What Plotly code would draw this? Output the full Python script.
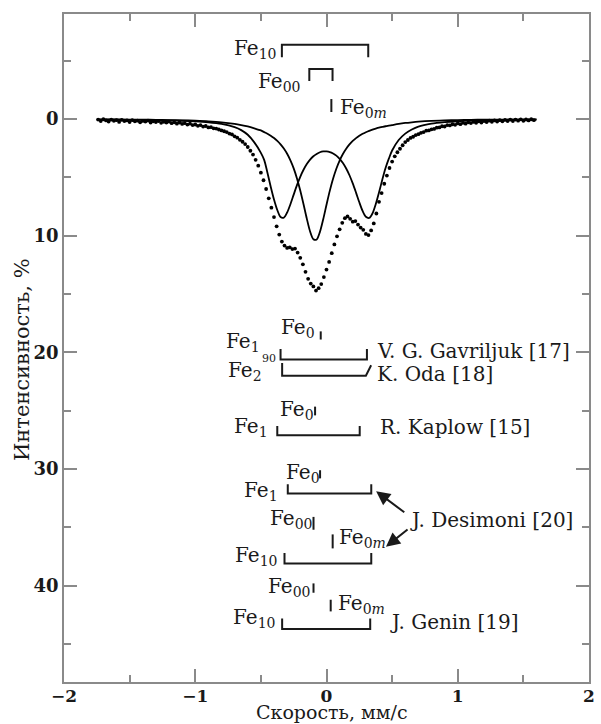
import plotly.graph_objects as go

# ---------------- data ----------------
velocity = [
    -1.74, -1.72, -1.70, -1.68, -1.66, -1.64, -1.62, -1.60, -1.58, -1.56,
    -1.54, -1.52, -1.50, -1.48, -1.46, -1.44, -1.42, -1.40, -1.38, -1.36,
    -1.34, -1.32, -1.30, -1.28, -1.26, -1.24, -1.22, -1.20, -1.18, -1.16,
    -1.14, -1.12, -1.10, -1.08, -1.06, -1.04, -1.02, -1.00, -0.98, -0.96,
    -0.94, -0.92, -0.90, -0.88, -0.86, -0.84, -0.82, -0.80, -0.78, -0.76,
    -0.74, -0.72, -0.70, -0.68, -0.66, -0.64, -0.62, -0.60, -0.58, -0.56,
    -0.54, -0.52, -0.50, -0.48, -0.46, -0.44, -0.42, -0.40, -0.38, -0.36,
    -0.34, -0.32, -0.30, -0.28, -0.26, -0.24, -0.22, -0.20, -0.18, -0.16,
    -0.14, -0.12, -0.10, -0.08, -0.06, -0.04, -0.02, 0.00, 0.02, 0.04,
    0.06, 0.08, 0.10, 0.12, 0.14, 0.16, 0.18, 0.20, 0.22, 0.24,
    0.26, 0.28, 0.30, 0.32, 0.34, 0.36, 0.38, 0.40, 0.42, 0.44,
    0.46, 0.48, 0.50, 0.52, 0.54, 0.56, 0.58, 0.60, 0.62, 0.64,
    0.66, 0.68, 0.70, 0.72, 0.74, 0.76, 0.78, 0.80, 0.82, 0.84,
    0.86, 0.88, 0.90, 0.92, 0.94, 0.96, 0.98, 1.00, 1.02, 1.04,
    1.06, 1.08, 1.10, 1.12, 1.14, 1.16, 1.18, 1.20, 1.22, 1.24,
    1.26, 1.28, 1.30, 1.32, 1.34, 1.36, 1.38, 1.40, 1.42, 1.44,
    1.46, 1.48, 1.50, 1.52, 1.54, 1.56, 1.58,
]
absorption = [
    0.05, 0.18, 0.02, 0.12, 0.22, 0.06, 0.15, 0.10, 0.25, 0.08,
    0.17, 0.12, 0.26, 0.10, 0.20, 0.14, 0.28, 0.16, 0.22, 0.13,
    0.30, 0.20, 0.26, 0.18, 0.33, 0.24, 0.30, 0.22, 0.36, 0.28,
    0.40, 0.30, 0.42, 0.36, 0.48, 0.40, 0.52, 0.47, 0.58, 0.52,
    0.65, 0.60, 0.72, 0.70, 0.80, 0.82, 0.90, 0.98, 1.05, 1.12,
    1.25, 1.32, 1.48, 1.60, 1.78, 1.95, 2.15, 2.40, 2.72, 3.05,
    3.50, 4.00, 4.60, 5.25, 6.00, 6.80, 7.60, 8.40, 9.20, 9.90,
    10.50, 10.85, 11.05, 11.00, 11.15, 11.10, 11.45, 11.90, 12.45, 13.10,
    13.70, 14.10, 14.35, 14.70, 14.50, 14.15, 13.55, 12.90, 12.25, 11.50,
    10.75, 10.05, 9.45, 8.90, 8.50, 8.35, 8.55, 8.80, 8.75, 9.05,
    9.30, 9.50, 9.85, 9.95, 9.55, 8.95, 8.10, 7.10, 6.35, 5.55,
    4.85, 4.20, 3.65, 3.20, 2.85, 2.55, 2.25, 1.98, 1.80, 1.62,
    1.52, 1.38, 1.30, 1.18, 1.12, 1.00, 0.98, 0.88, 0.85, 0.74,
    0.72, 0.62, 0.64, 0.52, 0.55, 0.45, 0.50, 0.38, 0.44, 0.33,
    0.40, 0.28, 0.35, 0.25, 0.32, 0.20, 0.30, 0.18, 0.26, 0.14,
    0.24, 0.12, 0.22, 0.10, 0.20, 0.08, 0.17, 0.06, 0.18, 0.05,
    0.14, 0.03, 0.15, 0.04, 0.12, 0.02, 0.10,
]

fit_velocity = [
    -1.75, -1.6, -1.5, -1.4, -1.3, -1.2, -1.1, -1.0, -0.9, -0.8,
    -0.7, -0.65, -0.6, -0.55, -0.5, -0.475, -0.45, -0.425, -0.4, -0.375,
    -0.35, -0.325, -0.3, -0.275, -0.25, -0.225, -0.2, -0.175, -0.15, -0.125,
    -0.1, -0.075, -0.05, -0.025, 0.0, 0.025, 0.05, 0.075, 0.1, 0.125,
    0.15, 0.175, 0.2, 0.225, 0.25, 0.275, 0.3, 0.325, 0.35, 0.375,
    0.4, 0.425, 0.45, 0.475, 0.5, 0.55, 0.6, 0.65, 0.7, 0.8,
    0.9, 1.0, 1.1, 1.2, 1.3, 1.4, 1.5, 1.6,
]
fit_doublet = [
    0.05, 0.06, 0.07, 0.08, 0.10, 0.12, 0.15, 0.20, 0.28, 0.42,
    0.70, 0.95, 1.35, 2.00, 2.90, 3.50, 4.60, 5.80, 6.90, 7.80,
    8.40, 8.45, 8.01, 7.30, 6.48, 5.67, 4.95, 4.35, 3.86, 3.48,
    3.19, 2.99, 2.85, 2.78, 2.78, 2.83, 2.95, 3.14, 3.41, 3.77,
    4.24, 4.82, 5.52, 6.31, 7.14, 7.88, 8.38, 8.48, 8.10, 7.30,
    6.30, 5.20, 4.20, 3.40, 2.70, 1.80, 1.25, 0.90, 0.65, 0.40,
    0.27, 0.19, 0.14, 0.11, 0.09, 0.08, 0.07, 0.06,
]
fit_singlet = [
    0.03, 0.04, 0.05, 0.06, 0.07, 0.09, 0.11, 0.15, 0.20, 0.28,
    0.42, 0.52, 0.64, 0.80, 0.98, 1.12, 1.26, 1.43, 1.63, 1.87,
    2.17, 2.53, 2.98, 3.54, 4.23, 5.09, 6.12, 7.30, 8.54, 9.64,
    10.30, 10.32, 9.67, 8.59, 7.35, 6.16, 5.12, 4.26, 3.56, 3.00,
    2.55, 2.18, 1.88, 1.64, 1.44, 1.27, 1.13, 1.01, 0.91, 0.82,
    0.74, 0.68, 0.62, 0.57, 0.52, 0.42, 0.34, 0.28, 0.23, 0.16,
    0.12, 0.09, 0.07, 0.06, 0.05, 0.04, 0.04, 0.03,
]

# brackets: left/right line positions (mm/s), base level and tick ends (%)
bracket_left = [-0.34, -0.131, -0.35, -0.338, -0.375, -0.295, -0.32, -0.338]
bracket_right = [0.318, 0.046, 0.308, 0.30, 0.253, 0.341, 0.341, 0.333]
bracket_right_end = [0.318, 0.046, 0.308, 0.34, 0.253, 0.341, 0.341, 0.333]
bracket_base = [-6.36, -4.29, 20.6, 22.0, 27.1, 32.1, 38.1, 43.7]
bracket_left_tip = [-5.3, -3.26, 19.7, 20.9, 26.3, 31.3, 37.2, 42.8]
bracket_right_tip = [-5.3, -3.26, 19.7, 21.1, 26.3, 31.3, 37.2, 42.8]

# single line positions
line_pos = [0.037, -0.044, -0.087, -0.049, -0.099, 0.047, -0.099, 0.032]
line_top = [-1.71, 18.2, 24.65, 30.1, 34.1, 35.6, 39.8, 41.2]
line_bottom = [-0.6, 18.9, 25.4, 30.8, 35.2, 36.8, 40.6, 42.2]

# labels: text, x, y, anchor
labels = [
    ("Fe<sub>10</sub>", -0.368, -5.96, "right"),
    ("Fe<sub>00</sub>", -0.187, -3.13, "right"),
    ("Fe<sub>0<i>m</i></sub>", 0.09, -0.94, "left"),
    ("Fe<sub>0</sub>", -0.36, 17.9, "left"),
    ("Fe<sub>1</sub>", -0.488, 19.1, "right"),
    ("Fe<sub>2</sub>", -0.48, 21.6, "right"),
    ("V. G. Gavriljuk [17]", 0.37, 19.85, "left"),
    ("K. Oda [18]", 0.37, 21.85, "left"),
    ("Fe<sub>0</sub>", -0.372, 24.9, "left"),
    ("Fe<sub>1</sub>", -0.43, 26.4, "right"),
    ("R. Kaplow [15]", 0.392, 26.4, "left"),
    ("Fe<sub>0</sub>", -0.323, 30.3, "left"),
    ("Fe<sub>1</sub>", -0.353, 31.9, "right"),
    ("J. Desimoni [20]", 0.622, 34.36, "left"),
    ("Fe<sub>00</sub>", -0.448, 34.3, "left"),
    ("Fe<sub>0<i>m</i></sub>", 0.083, 35.9, "left"),
    ("Fe<sub>10</sub>", -0.362, 37.45, "right"),
    ("Fe<sub>00</sub>", -0.461, 40.1, "left"),
    ("Fe<sub>0<i>m</i></sub>", 0.07, 41.6, "left"),
    ("Fe<sub>10</sub>", -0.375, 42.8, "right"),
    ("J. Genin [19]", 0.467, 43.1, "left"),
]
small_label = ("90", -0.438, 20.5)

# arrows: tail x, tail y, head x, head y
arrows = [
    (0.604, 33.8, 0.378, 31.9),
    (0.629, 35.07, 0.453, 36.65),
]

x_ticks = [-2, -1, 0, 1, 2]
x_tick_text = ["\u22122", "\u22121", "0", "1", "2"]
y_ticks = [0, 10, 20, 30, 40]

# ---------------- figure ----------------
FONT = "DejaVu Serif"
INK = "#1a1a1a"
AXIS = "#8a8a8a"

fig = go.Figure()
fig.add_trace(go.Scatter(
    x=velocity, y=absorption, mode="markers",
    marker=dict(size=3.8, color="black"), hoverinfo="skip", showlegend=False))
for series in (fit_doublet, fit_singlet):
    fig.add_trace(go.Scatter(
        x=fit_velocity, y=series, mode="lines",
        line=dict(color="black", width=1.8, shape="spline", smoothing=0.8),
        hoverinfo="skip", showlegend=False))

for i in range(len(bracket_left)):
    fig.add_trace(go.Scatter(
        x=[bracket_left[i], bracket_left[i], bracket_right[i], bracket_right_end[i]],
        y=[bracket_left_tip[i], bracket_base[i], bracket_base[i], bracket_right_tip[i]],
        mode="lines", line=dict(color=INK, width=2),
        hoverinfo="skip", showlegend=False))

for i in range(len(line_pos)):
    fig.add_trace(go.Scatter(
        x=[line_pos[i], line_pos[i]], y=[line_top[i], line_bottom[i]],
        mode="lines", line=dict(color=INK, width=2),
        hoverinfo="skip", showlegend=False))

annotations = []
for text, x, y, anchor in labels:
    annotations.append(dict(
        x=x, y=y, xref="x", yref="y", text=text, showarrow=False,
        xanchor=anchor, yanchor="middle",
        font=dict(family=FONT, size=20, color=INK)))
annotations.append(dict(
    x=small_label[1], y=small_label[2], xref="x", yref="y", text=small_label[0],
    showarrow=False, xanchor="center", yanchor="middle",
    font=dict(family=FONT, size=11, color=INK)))
for tx, ty, hx, hy in arrows:
    annotations.append(dict(
        x=hx, y=hy, ax=tx, ay=ty, xref="x", yref="y", axref="x", ayref="y",
        text="", showarrow=True, arrowhead=2, arrowsize=1.4, arrowwidth=2,
        arrowcolor=INK))
annotations.append(dict(
    x=-0.08, y=0.482, xref="paper", yref="paper", text="Интенсивность, %",
    textangle=-90, showarrow=False, xanchor="center", yanchor="middle",
    font=dict(family=FONT, size=21, color=INK)))
annotations.append(dict(
    x=0.51, y=-0.0629, xref="paper", yref="paper", text="Скорость, мм/с",
    showarrow=False, xanchor="center", yanchor="bottom", borderpad=0,
    font=dict(family=FONT, size=19, color=INK)))

axis_common = dict(
    showline=True, linecolor=AXIS, linewidth=1.5, mirror="allticks",
    ticks="inside", ticklen=13, tickwidth=1.5, tickcolor=AXIS,
    showgrid=False, zeroline=False)

fig.update_xaxes(
    range=[-2, 2], tickmode="array", tickvals=x_ticks, ticktext=x_tick_text,
    minor=dict(dtick=0.5, ticks="inside", ticklen=7, tickwidth=1.5, tickcolor=AXIS),
    ticklabelstandoff=-2,
    tickfont=dict(family=FONT, size=17, color=INK, weight="bold"),
    **axis_common)
fig.update_yaxes(
    range=[48.25, -9], tickmode="array", tickvals=y_ticks,
    minor=dict(dtick=5, tick0=0, ticks="inside", ticklen=7, tickwidth=1.5, tickcolor=AXIS),
    tickfont=dict(family=FONT, size=18, color=INK, weight="bold"),
    **axis_common)

fig.update_layout(
    width=601, height=724,
    margin=dict(l=64, r=6, t=14, b=42),
    paper_bgcolor="white", plot_bgcolor="white",
    annotations=annotations,
)

fig.write_html("out.html")
